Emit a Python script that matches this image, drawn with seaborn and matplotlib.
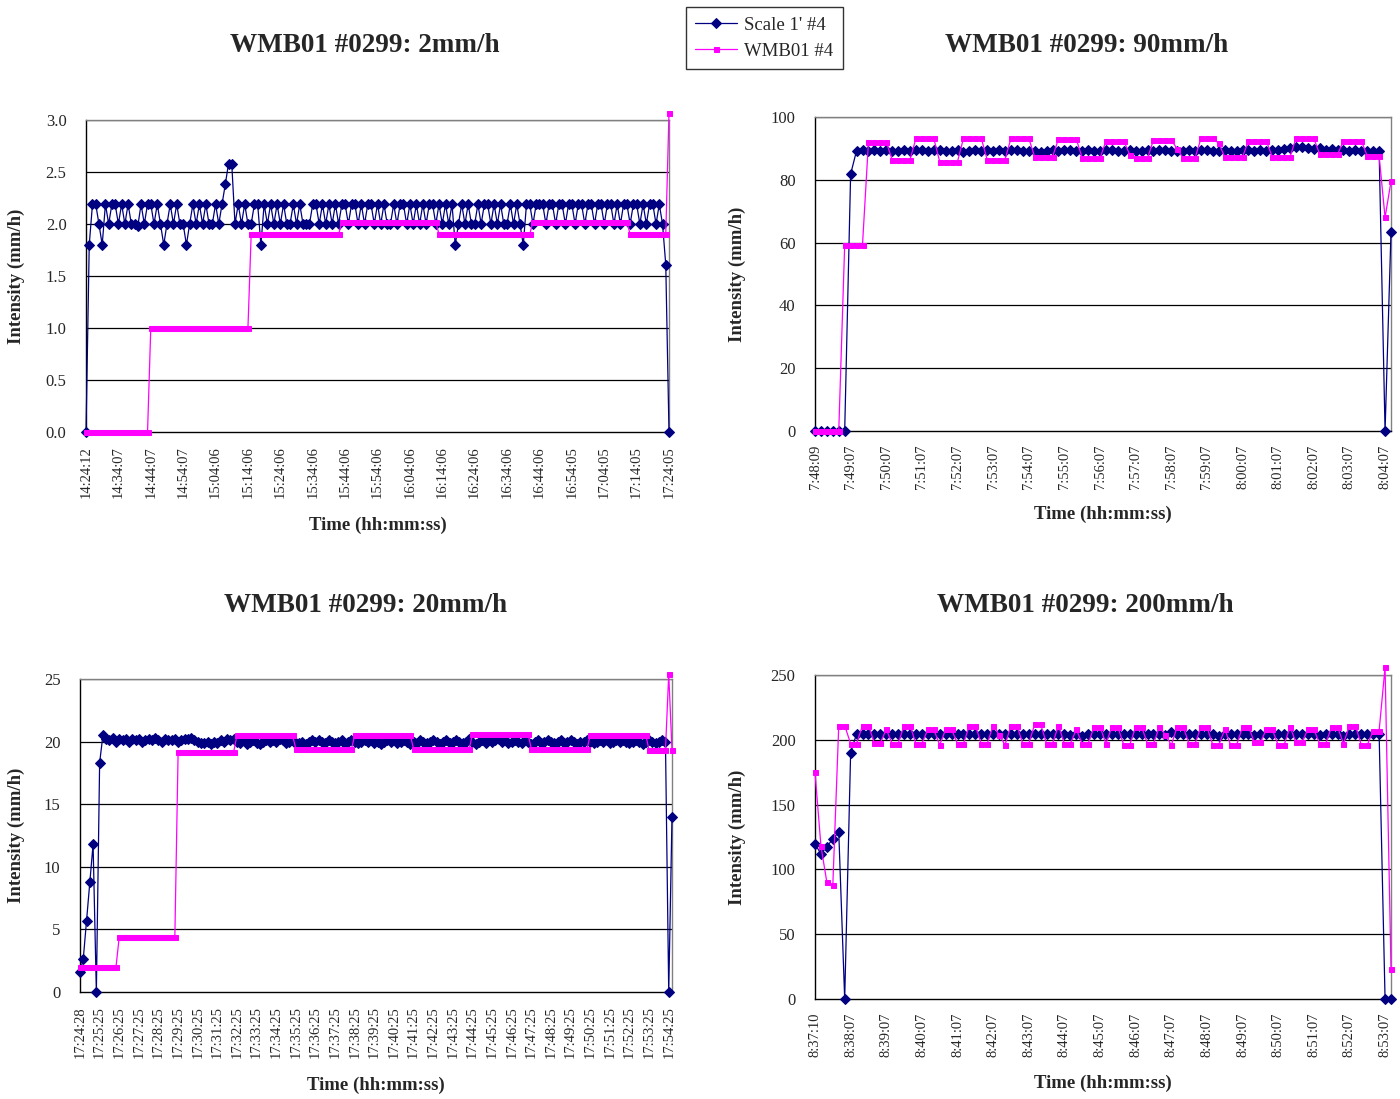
'''rain gauge intensity comparison, 4 panels'''

import matplotlib
matplotlib.use('Agg')
import matplotlib.pyplot as plt
import seaborn as sns
import pandas as pd

# ---- panel 1: 2mm/h ----
time_2mm = ['14:24:12', '14:34:07', '14:44:07', '14:54:07', '15:04:06', '15:14:06', '15:24:06',
            '15:34:06', '15:44:06', '15:54:06', '16:04:06', '16:14:06', '16:24:06', '16:34:06',
            '16:44:06', '16:54:05', '17:04:05', '17:14:05', '17:24:05']
scale_2mm = [
    0, 1.8, 2.19, 2.19, 2.0, 1.8, 2.19, 2.0, 2.19, 2.19,
    2.0, 2.19, 2.0, 2.19, 2.0, 2.0, 1.98, 2.19, 2.0, 2.19,
    2.19, 2.0, 2.19, 2.0, 1.8, 2.0, 2.19, 2.0, 2.19, 2.0,
    2.0, 1.8, 2.0, 2.19, 2.0, 2.19, 2.0, 2.19, 2.0, 2.0,
    2.19, 2.0, 2.19, 2.38, 2.58, 2.58, 2.0, 2.19, 2.0, 2.19,
    2.0, 2.0, 2.19, 2.19, 1.8, 2.19, 2.0, 2.19, 2.0, 2.19,
    2.0, 2.19, 2.0, 2.0, 2.19, 2.0, 2.19, 2.0, 2.0, 2.0,
    2.19, 2.19, 2.0, 2.19, 2.0, 2.19, 2.0, 2.19, 2.0, 2.19,
    2.19, 2.0, 2.19, 2.19, 2.0, 2.19, 2.0, 2.19, 2.19, 2.0,
    2.19, 2.0, 2.19, 2.0, 2.0, 2.19, 2.0, 2.19, 2.19, 2.0,
    2.19, 2.0, 2.19, 2.0, 2.19, 2.0, 2.19, 2.19, 2.0, 2.19,
    2.0, 2.19, 2.0, 2.19, 1.8, 2.0, 2.19, 2.0, 2.19, 2.0,
    2.0, 2.19, 2.0, 2.19, 2.19, 2.0, 2.19, 2.0, 2.19, 2.0,
    2.0, 2.19, 2.0, 2.19, 2.0, 1.8, 2.19, 2.19, 2.0, 2.19,
    2.19, 2.19, 2.0, 2.19, 2.19, 2.0, 2.19, 2.19, 2.0, 2.19,
    2.19, 2.0, 2.19, 2.19, 2.0, 2.19, 2.19, 2.0, 2.19, 2.19,
    2.0, 2.19, 2.19, 2.0, 2.19, 2.0, 2.19, 2.19, 2.0, 2.19,
    2.19, 2.0, 2.19, 2.0, 2.19, 2.19, 2.0, 2.19, 2.0, 1.61,
    0]
wmb_2mm = [
    0, 0, 0, 0, 0, 0, 0, 0, 0, 0,
    0, 0, 0, 0, 0, 0, 0, 0, 0, 0,
    1.0, 1.0, 1.0, 1.0, 1.0, 1.0, 1.0, 1.0, 1.0, 1.0,
    1.0, 1.0, 1.0, 1.0, 1.0, 1.0, 1.0, 1.0, 1.0, 1.0,
    1.0, 1.0, 1.0, 1.0, 1.0, 1.0, 1.0, 1.0, 1.0, 1.0,
    1.0, 1.9, 1.9, 1.9, 1.9, 1.9, 1.9, 1.9, 1.9, 1.9,
    1.9, 1.9, 1.9, 1.9, 1.9, 1.9, 1.9, 1.9, 1.9, 1.9,
    1.9, 1.9, 1.9, 1.9, 1.9, 1.9, 1.9, 1.9, 1.9, 2.02,
    2.02, 2.02, 2.02, 2.02, 2.02, 2.02, 2.02, 2.02, 2.02, 2.02,
    2.02, 2.02, 2.02, 2.02, 2.02, 2.02, 2.02, 2.02, 2.02, 2.02,
    2.02, 2.02, 2.02, 2.02, 2.02, 2.02, 2.02, 2.02, 2.02, 1.9,
    1.9, 1.9, 1.9, 1.9, 1.9, 1.9, 1.9, 1.9, 1.9, 1.9,
    1.9, 1.9, 1.9, 1.9, 1.9, 1.9, 1.9, 1.9, 1.9, 1.9,
    1.9, 1.9, 1.9, 1.9, 1.9, 1.9, 1.9, 1.9, 2.02, 2.02,
    2.02, 2.02, 2.02, 2.02, 2.02, 2.02, 2.02, 2.02, 2.02, 2.02,
    2.02, 2.02, 2.02, 2.02, 2.02, 2.02, 2.02, 2.02, 2.02, 2.02,
    2.02, 2.02, 2.02, 2.02, 2.02, 2.02, 2.02, 2.02, 1.9, 1.9,
    1.9, 1.9, 1.9, 1.9, 1.9, 1.9, 1.9, 1.9, 1.9, 1.9,
    3.07]

# ---- panel 2: 90mm/h ----
time_90mm = ['7:48:09', '7:49:07', '7:50:07', '7:51:07', '7:52:07', '7:53:07', '7:54:07', '7:55:07',
             '7:56:07', '7:57:07', '7:58:07', '7:59:07', '8:00:07', '8:01:07', '8:02:07', '8:03:07',
             '8:04:07']
scale_90mm = [
    0, 0, 0, 0, 0, 0, 81.8,
    89.3, 89.5, 89.3, 89.4, 89.3, 89.5, 89.3, 89.3, 89.4, 89.3,
    89.5, 89.4, 89.3, 89.5, 89.4, 89.3, 89.3, 89.4, 88.9, 89.3,
    89.4, 89.3, 89.5, 89.3, 89.4, 89.3, 89.5, 89.4, 89.3, 89.3,
    89.3, 89.0, 89.3, 89.4, 89.3, 89.5, 89.4, 89.3, 89.3, 89.4,
    89.3, 89.3, 89.5, 89.4, 89.3, 89.3, 89.4, 89.3, 89.3, 89.4,
    89.3, 89.5, 89.4, 89.3, 89.3, 89.3, 89.4, 89.3, 89.5, 89.4,
    89.3, 89.3, 89.4, 89.3, 89.3, 89.4, 89.5, 89.3, 89.4, 89.3,
    89.5, 89.6, 89.8, 90.0, 90.3, 90.6, 90.2, 89.8, 90.0, 89.6,
    89.8, 89.5, 89.6, 89.3, 89.5, 89.3, 89.3, 89.2, 89.3,
    0, 63.4]
wmb_90mm = [
    0, 0, 0, 0, 0, 59.3, 59.3, 59.3, 59.3,
    92.0, 92.0, 92.0, 92.0, 86.4, 86.4, 86.4, 86.4,
    93.2, 93.2, 93.2, 93.2, 85.8, 85.8, 85.8, 85.8,
    93.2, 93.2, 93.2, 93.2, 86.4, 86.4, 86.4, 86.4,
    93.2, 93.2, 93.2, 93.2, 87.3, 87.3, 87.3, 87.3,
    93.0, 93.0, 93.0, 93.0, 86.9, 86.9, 86.9, 86.9,
    92.4, 92.4, 92.4, 92.4, 88.0, 86.9, 86.9, 86.9,
    92.7, 92.7, 92.7, 92.7, 89.8, 86.9, 86.9, 86.9,
    93.2, 93.2, 93.2, 91.6, 87.3, 87.3, 87.3, 87.3,
    92.4, 92.4, 92.4, 92.4, 87.3, 87.3, 87.3, 87.3,
    93.2, 93.2, 93.2, 93.2, 88.1, 88.1, 88.1, 88.1,
    92.4, 92.4, 92.4, 92.4, 87.6, 87.6, 87.6,
    68.0, 79.5]

# ---- panel 3: 20mm/h ----
time_20mm = ['17:24:28', '17:25:25', '17:26:25', '17:27:25', '17:28:25', '17:29:25', '17:30:25',
             '17:31:25', '17:32:25', '17:33:25', '17:34:25', '17:35:25', '17:36:25', '17:37:25',
             '17:38:25', '17:39:25', '17:40:25', '17:41:25', '17:42:25', '17:43:25', '17:44:25',
             '17:45:25', '17:46:25', '17:47:25', '17:48:25', '17:49:25', '17:50:25', '17:51:25',
             '17:52:25', '17:53:25', '17:54:25']
scale_20mm = [
    1.6, 2.65, 5.7, 8.75, 11.8, 0, 18.3, 20.5,
    20.2, 20.1, 20.3, 20.0, 20.2, 20.1, 20.2, 20.0, 20.2, 20.1,
    20.2, 20.0, 20.1, 20.2, 20.1, 20.3, 20.1, 20.0, 20.2, 20.1,
    20.1, 20.2, 20.0, 20.1, 20.2, 20.2, 20.3, 20.1, 20.0, 19.9,
    19.9, 20.0, 19.8, 20.0, 19.9, 20.1, 20.0, 20.2, 20.1, 20.2,
    20.0, 19.9, 20.1, 19.8, 20.0, 20.1, 19.9, 19.8, 20.0, 20.1,
    20.0, 20.1, 20.0, 20.2, 20.1, 19.9, 20.0, 20.1, 19.8, 19.9,
    20.0, 19.8, 20.0, 20.1, 20.0, 20.1, 20.0, 19.9, 20.1, 20.0,
    19.9, 20.0, 20.1, 19.8, 20.0, 20.1, 20.0, 19.9, 20.0, 20.1,
    20.0, 20.1, 19.9, 20.0, 19.8, 20.0, 20.1, 20.0, 20.1, 19.9,
    20.0, 20.1, 20.0, 19.8, 20.0, 19.9, 20.1, 20.0, 19.9, 20.0,
    20.1, 20.0, 19.8, 20.0, 20.1, 19.9, 20.0, 20.1, 20.0, 19.9,
    20.0, 20.2, 20.0, 19.8, 20.0, 20.1, 19.9, 20.1, 20.0, 20.1,
    20.2, 20.0, 20.1, 19.9, 20.0, 20.1, 20.0, 19.9, 20.1, 20.0,
    19.8, 20.0, 20.1, 19.9, 20.0, 20.1, 20.0, 19.9, 20.0, 20.1,
    19.9, 20.0, 20.1, 20.0, 19.8, 20.0, 20.0, 20.1, 20.0, 19.9,
    20.0, 20.1, 20.0, 20.1, 19.9, 20.0, 20.1, 20.0, 20.1, 20.0,
    19.9, 20.0, 20.1, 20.0, 19.8, 20.0, 20.1, 20.0, 19.9, 20.0,
    20.1, 20.0,
    0, 14.0]
wmb_20mm = [
    2.0, 2.0, 2.0, 2.0, 2.0, 2.0, 2.0, 2.0, 2.0, 2.0, 2.0, 2.0,
    4.4, 4.4, 4.4, 4.4, 4.4, 4.4, 4.4, 4.4, 4.4, 4.4, 4.4, 4.4, 4.4, 4.4, 4.4, 4.4, 4.4, 4.4,
    19.2, 19.2, 19.2, 19.2, 19.2, 19.2, 19.2, 19.2, 19.2, 19.2, 19.2, 19.2, 19.2, 19.2, 19.2, 19.2, 19.2, 19.2,
    20.5, 20.5, 20.5, 20.5, 20.5, 20.5, 20.5, 20.5, 20.5, 20.5, 20.5, 20.5, 20.5, 20.5, 20.5, 20.5, 20.5, 20.5,
    19.4, 19.4, 19.4, 19.4, 19.4, 19.4, 19.4, 19.4, 19.4, 19.4, 19.4, 19.4, 19.4, 19.4, 19.4, 19.4, 19.4, 19.4,
    20.5, 20.5, 20.5, 20.5, 20.5, 20.5, 20.5, 20.5, 20.5, 20.5, 20.5, 20.5, 20.5, 20.5, 20.5, 20.5, 20.5, 20.5,
    19.4, 19.4, 19.4, 19.4, 19.4, 19.4, 19.4, 19.4, 19.4, 19.4, 19.4, 19.4, 19.4, 19.4, 19.4, 19.4, 19.4, 19.4,
    20.6, 20.6, 20.6, 20.6, 20.6, 20.6, 20.6, 20.6, 20.6, 20.6, 20.6, 20.6, 20.6, 20.6, 20.6, 20.6, 20.6, 20.6,
    19.4, 19.4, 19.4, 19.4, 19.4, 19.4, 19.4, 19.4, 19.4, 19.4, 19.4, 19.4, 19.4, 19.4, 19.4, 19.4, 19.4, 19.4,
    20.5, 20.5, 20.5, 20.5, 20.5, 20.5, 20.5, 20.5, 20.5, 20.5, 20.5, 20.5, 20.5, 20.5, 20.5, 20.5, 20.5, 20.5,
    19.3, 19.3, 19.3, 19.3, 19.3, 19.3,
    25.4, 19.3]

# ---- panel 4: 200mm/h ----
time_200mm = ['8:37:10', '8:38:07', '8:39:07', '8:40:07', '8:41:07', '8:42:07', '8:43:07', '8:44:07',
              '8:45:07', '8:46:07', '8:47:07', '8:48:07', '8:49:07', '8:50:07', '8:51:07', '8:52:07',
              '8:53:07']
scale_200mm = [
    119.6, 112, 117.6, 123.5, 128.8, 0, 190,
    204.6, 204.5, 204.3, 204.6, 204.4, 204.5, 204.3, 204.6, 204.4, 204.5,
    204.3, 204.5, 204.6, 204.4, 204.5, 204.3, 204.6, 204.5, 204.4, 204.3,
    204.5, 204.6, 204.4, 204.5, 204.3, 204.5, 204.6, 204.4, 204.3, 204.5,
    204.4, 204.5, 204.6, 204.3, 204.5, 204.4, 203.5, 204.5, 202.8, 204.3,
    204.5, 204.4, 204.6, 204.3, 204.5, 204.4, 204.3, 204.5, 204.6, 204.4,
    204.5, 204.3, 203.6, 205.8, 204.5, 204.3, 204.6, 204.4, 204.5, 204.3,
    204.4, 203.2, 204.5, 204.6, 204.4, 204.3, 204.5, 203.8, 204.4, 204.5,
    204.6, 204.4, 204.3, 204.5, 204.6, 204.4, 204.5, 204.3, 203.4, 204.5,
    204.4, 204.6, 202.6, 204.5, 204.4, 204.6, 204.5, 204.4, 204.5,
    0, 0]
wmb_200mm = [
    175, 118, 90, 87.7, 211, 211, 197, 197, 211, 211,
    197.6, 197.6, 208, 197, 197, 211, 211, 197, 197, 208,
    208, 196, 208, 208, 197, 197, 211, 211, 197, 197,
    211, 204, 196, 211, 211, 197, 197, 212, 212, 197,
    197, 211, 197, 197, 208, 197, 197, 210, 210, 197,
    210, 210, 196, 196, 210, 210, 197, 197, 210, 204,
    196, 210, 210, 197, 197, 210, 210, 196, 196, 208,
    196, 196, 210, 210, 198, 198, 208, 208, 196, 196,
    210, 198, 198, 208, 208, 197, 197, 210, 210, 197,
    211, 211, 196, 196, 207, 207, 256, 23.5]

titles = ['WMB01 #0299: 2mm/h', 'WMB01 #0299: 90mm/h', 'WMB01 #0299: 20mm/h', 'WMB01 #0299: 200mm/h']

sns.set_style('white')
plt.rcParams['font.family'] = ['Liberation Serif', 'DejaVu Serif']

W, H = 1400, 1099
fig = plt.figure(figsize=(W / 100, H / 100), dpi=100)

NAVY = '#000080'
PINK = '#FF00FF'


def make_ax(l, r, t, b):
    return fig.add_axes([l / W, 1 - b / H, (r - l) / W, (b - t) / H])


panels = [
    # box, scale, wmb, labels, step, yticks, yfmt, title pos, ylabel x, xlabel y
    ((86, 669, 120, 432), scale_2mm, wmb_2mm, time_2mm, 10,
     [0, 0.5, 1.0, 1.5, 2.0, 2.5, 3.0], '{:.1f}', (365, 46), 16, 525),
    ((815, 1391, 117, 431), scale_90mm, wmb_90mm, time_90mm, 6,
     [0, 20, 40, 60, 80, 100], '{:d}', (1087, 46), 737, 514),
    ((80, 672, 679, 992), scale_20mm, wmb_20mm, time_20mm, 6,
     [0, 5, 10, 15, 20, 25], '{:d}', (365, 605), 16, 1085),
    ((815, 1391, 675, 999), scale_200mm, wmb_200mm, time_200mm, 6,
     [0, 50, 100, 150, 200, 250], '{:d}', (1085, 605), 737, 1083),
]

for i, (box, scale, wmb, labels, step, yt, yfmt, tpos, ylx, xly) in enumerate(panels):
    ax = make_ax(*box)
    df = pd.DataFrame({'idx': range(len(scale)), 'scale': scale, 'wmb': wmb})
    sns.lineplot(data=df, x='idx', y='scale', ax=ax, color=NAVY, marker='D', markersize=5,
                 markeredgecolor=NAVY, linewidth=0.9, clip_on=False, zorder=3,
                 label="Scale 1' #4", legend=False)
    sns.lineplot(data=df, x='idx', y='wmb', ax=ax, color=PINK, marker='s', markersize=3.6,
                 markeredgecolor=PINK, linewidth=0.9, clip_on=False, zorder=4,
                 label='WMB01 #4', legend=False)
    ax.set_xlim(0, len(scale) - 1)
    ax.set_ylim(yt[0], yt[-1])
    ax.set_yticks(yt)
    ax.set_yticklabels([yfmt.format(v) for v in yt], fontsize=12)
    ax.set_xticks(list(range(0, step * len(labels), step)))
    ax.set_xticklabels(labels, rotation=90, fontsize=10.5)
    ax.tick_params(axis='both', direction='out', length=4, width=0.8, color='black', pad=6)
    ax.tick_params(axis='y', pad=10)
    for v in yt[1:]:
        ax.axhline(v, color='black', linewidth=0.9, zorder=1)
    for s in ['left', 'bottom']:
        ax.spines[s].set_color('black')
        ax.spines[s].set_linewidth(1.0)
    for s in ['top', 'right']:
        ax.spines[s].set_color('#808080')
        ax.spines[s].set_linewidth(1.0)
    ax.set_xlabel('')
    ax.set_ylabel('')
    fig.text(tpos[0] / W, 1 - tpos[1] / H, titles[i], ha='center', va='center',
             fontsize=19.5, fontweight='bold')
    fig.text(ylx / W, 1 - (box[2] + box[3]) / 2 / H, 'Intensity (mm/h)', rotation=90,
             ha='center', va='center', fontsize=13.5, fontweight='bold')
    fig.text((box[0] + box[1]) / 2 / W, 1 - xly / H, 'Time (hh:mm:ss)', ha='center',
             va='center', fontsize=13.5, fontweight='bold')
    if i == 0:
        handles, hlabels = ax.get_legend_handles_labels()

leg = fig.legend(handles, hlabels, loc='upper left', bbox_to_anchor=(686 / W, 1 - 7 / H),
                 frameon=True, fancybox=False, fontsize=13.5, handlelength=2.2,
                 borderpad=0.5, labelspacing=0.5, handletextpad=0.4, borderaxespad=0)
leg.get_frame().set_edgecolor('black')
leg.get_frame().set_linewidth(1.0)

fig.savefig('out.png', dpi=100)
